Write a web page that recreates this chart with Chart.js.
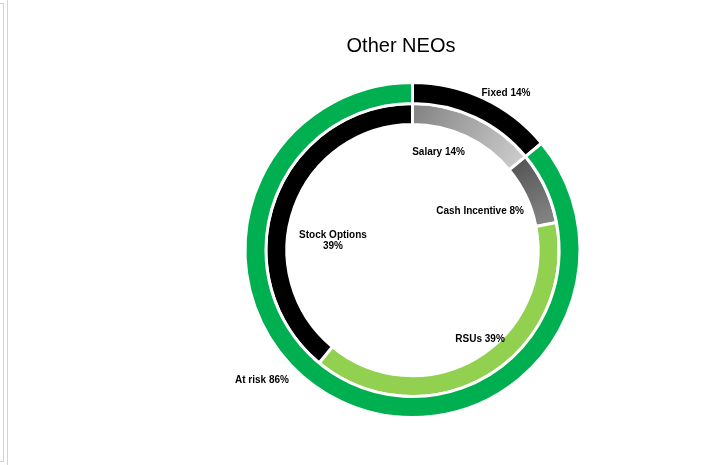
<!DOCTYPE html>
<html>
<head>
<meta charset="utf-8">
<script src="https://cdn.jsdelivr.net/npm/chart.js@4.4.1/dist/chart.umd.min.js"></script>
<style>
    html, body { margin: 0; padding: 0; background: #fff; }
    #wrap { position: relative; width: 712px; height: 465px; overflow: hidden; }
    #edge1 { position: absolute; left: 0; top: 3px; width: 3px; height: 457px; border: 1px solid #d4d4d4; border-left: none; }
    #edge2 { position: absolute; left: 7px; top: 0; width: 0; height: 465px; border-left: 1px solid #d4d4d4; }
    #title { position: absolute; left: 301px; top: 35px; width: 200px; text-align: center;
             font: 20px 'Liberation Sans', Arial, sans-serif; line-height: 20px; color: #000; }
    #chart { position: absolute; left: 0; top: 0; }
</style>
</head>
<body>
<div id="wrap">
    <div id="edge1"></div>
    <div id="edge2"></div>
    <canvas id="chart" width="712" height="465"></canvas>
    <div id="title">Other NEOs</div>
</div>
<script>
// outer ring
const outerLabels = ['Fixed', 'At risk'];
const outerValues = [14, 86];
// inner ring
const innerLabels = ['Salary', 'Cash Incentive', 'RSUs', 'Stock Options'];
const innerValues = [14, 8, 39, 39];

const green = '#00B050';
const lightGreen = '#92D050';

// label anchors, relative to the ring centre in units of the outer radius
const outerLabelPos = [[0.563, -0.946], [-0.907, 0.783]];
const innerLabelPos = [[0.157, -0.590], [0.407, -0.235], [0.407, 0.536], [-0.479, -0.054]];

// gradient fill along the arc, from its start point to its end point
function arcGradient(context, from, to) {
    const chart = context.chart;
    const area = chart.chartArea;
    if (!area) {
        return from;
    }
    const cx = (area.left + area.right) / 2;
    const cy = (area.top + area.bottom) / 2;
    const values = context.dataset.data;
    const total = values.reduce((a, b) => a + b, 0);
    let before = 0;
    for (let i = 0; i < context.dataIndex; i++) {
        before += values[i];
    }
    const a0 = -Math.PI / 2 + (before / total) * Math.PI * 2;
    const a1 = a0 + (values[context.dataIndex] / total) * Math.PI * 2;
    const r = 135;
    const g = chart.ctx.createLinearGradient(
        cx + r * Math.cos(a0), cy + r * Math.sin(a0),
        cx + r * Math.cos(a1), cy + r * Math.sin(a1));
    g.addColorStop(0, from);
    g.addColorStop(1, to);
    return g;
}

const innerColor = (context) => {
    switch (context.dataIndex) {
        case 0:
            return arcGradient(context, '#858585', '#cacaca');
        case 1:
            return arcGradient(context, '#575757', '#858585');
        case 2:
            return lightGreen;
        default:
            return '#000000';
    }
};

const ringLabels = {
    id: 'ringLabels',
    afterDatasetsDraw(chart) {
        const ctx = chart.ctx;
        const arc0 = chart.getDatasetMeta(0).data[0];
        const cx = arc0.x;
        const cy = arc0.y;
        const R = 166;
        ctx.save();
        ctx.fillStyle = '#000';
        ctx.font = "bold 10px 'Liberation Sans', Arial, sans-serif";
        ctx.textAlign = 'center';
        ctx.textBaseline = 'middle';
        outerLabels.forEach((name, i) => {
            const [dx, dy] = outerLabelPos[i];
            ctx.fillText(name + ' ' + outerValues[i] + '%', cx + dx * R, cy + dy * R);
        });
        innerLabels.forEach((name, i) => {
            const [dx, dy] = innerLabelPos[i];
            const x = cx + dx * R;
            const y = cy + dy * R;
            if (name === 'Stock Options') {
                ctx.fillText(name, x, y - 5.5);
                ctx.fillText(innerValues[i] + '%', x, y + 5.5);
            } else {
                ctx.fillText(name + ' ' + innerValues[i] + '%', x, y);
            }
        });
        ctx.restore();
    },
};

const ctx = document.getElementById('chart').getContext('2d');
const chart = new Chart(ctx, {
    type: 'doughnut',
    data: {
        labels: innerLabels,
        datasets: [
            {
                label: 'Outer',
                data: outerValues,
                backgroundColor: ['#000000', green],
                borderColor: '#ffffff',
                borderWidth: 3,
            },
            {
                label: 'Inner',
                data: innerValues,
                backgroundColor: innerColor,
                borderColor: '#ffffff',
                borderWidth: 3,
            },
        ],
    },
    options: {
        responsive: false,
        animation: false,
        radius: 167.5,
        cutout: 124.5,
        layout: {
            padding: { left: 245, right: 132, top: 82.5, bottom: 47.5 },
        },
        plugins: {
            legend: { display: false },
            title: { display: false },
            tooltip: { enabled: false },
        },
        events: [],
    },
    plugins: [ringLabels],
});
</script>
</body>
</html>
